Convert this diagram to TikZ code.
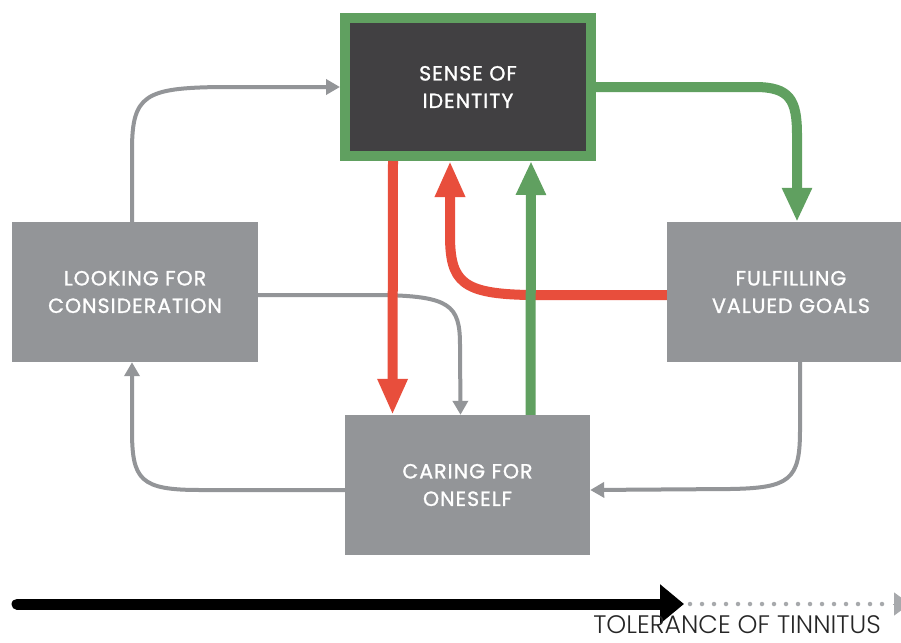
\documentclass[tikz,border=0pt]{standalone}
\usepackage{fontspec}
\setmainfont{Poppins}
\newfontfamily\boxfont{Poppins}[FakeBold=1.2, LetterSpace=5]
\newfontfamily\lightfont{Poppins}[UprightFont=* Light]
\usetikzlibrary{arrows.meta,calc}
\definecolor{boxgray}{HTML}{939598}
\definecolor{darkbox}{HTML}{414042}
\definecolor{idgreen}{HTML}{60A060}
\definecolor{idred}{HTML}{E84E3C}
\definecolor{dotgray}{HTML}{A7A9AC}
\tikzset{
  graybox/.style={fill=boxgray, text=white, align=center, inner sep=0pt,
    minimum width=246, minimum height=140, font=\boxfont\fontsize{20.5}{27.5}\selectfont},
  darkidbox/.style={fill=darkbox, draw=idgreen, line width=10pt, text=white, align=center,
    inner sep=0pt, minimum width=246, minimum height=138, font=\boxfont\fontsize{20.5}{27.5}\selectfont},
  thinarrow/.style={draw=boxgray, line width=4pt, -{Triangle[length=14pt,width=15pt]}},
  redarrow/.style={draw=idred, line width=10pt, -{Triangle[length=36pt,width=28pt]}},
  greenarrow/.style={draw=idgreen, line width=10pt, -{Triangle[length=34pt,width=28pt]}},
}
\begin{document}
\begin{tikzpicture}[x=1pt,y=-1pt]
\useasboundingbox (0,0) rectangle (901,642);
\fill[white] (0,0) rectangle (901,642);

\node[darkidbox] (sense) at (468,87) {SENSE OF\\IDENTITY};
\node[graybox] (looking) at (135,292) {LOOKING FOR\\CONSIDERATION};
\node[graybox, minimum width=248] (fulfil) at (791,292) {FULFILLING\\VALUED GOALS};
\node[graybox, minimum width=245] (caring) at (467.5,485) {CARING FOR\\ONESELF};

% gray loop arrows
\draw[thinarrow] ($(looking.north)+(-3,0)$) -- (132,150)
   .. controls (132,95) and (145,88) .. (220,87) -- (sense.west);
\draw[thinarrow] ($(looking.east)+(0,3)$) -- (380,295)
   .. controls (450,296) and (460,305) .. (460,345) -- ($(caring.north)+(-7,0)$);
\draw[thinarrow] ($(fulfil.south)+(9,0)$) -- (800,430)
   .. controls (800,480) and (790,488) .. (730,489) -- ($(caring.east)+(0,5)$);
\draw[thinarrow] ($(caring.west)+(0,5)$) -- (200,490)
   .. controls (140,490) and (132,480) .. (132,430) -- ($(looking.south)+(-3,0)$);

% red arrows
\draw[redarrow] ($(sense.south)+(-75,0)$) -- ($(caring.north)+(-75,0)$);
\draw[redarrow] ($(fulfil.west)+(0,3)$) -- (530,295)
   .. controls (462,294) and (450,282) .. (450,235) -- ($(sense.south)+(-18,0)$);

% green arrows
\draw[greenarrow] ($(caring.north)+(63,0)$) -- ($(sense.south)+(63,0)$);
\draw[greenarrow] (sense.east) -- (755,87)
   .. controls (790,87) and (797,100) .. (797,135) -- ($(fulfil.north)+(6,0)$);

% tolerance axis
\coordinate (axstart) at (17,604);
\coordinate (axmid) at (684,604);
\coordinate (axdots) at (893,604);
\coordinate (axend) at (910,604);
\draw[line width=11pt, line cap=round, -{Triangle[length=24pt,width=38pt]}] (axstart) -- (axmid);
\draw[dotgray, line width=4.5pt, line cap=round, dash pattern=on 0pt off 12pt] ($(axmid)+(6,0)$) -- (axdots);
\draw[dotgray, line width=1pt, -{Triangle[length=16pt,width=23pt]}] (axdots) -- (axend);
\node[anchor=base east, inner sep=0pt, text=black!85, font=\lightfont\fontsize{25.3}{25.3}\selectfont] (tol) at (881,633) {TOLERANCE OF TINNITUS};
\end{tikzpicture}
\end{document}
